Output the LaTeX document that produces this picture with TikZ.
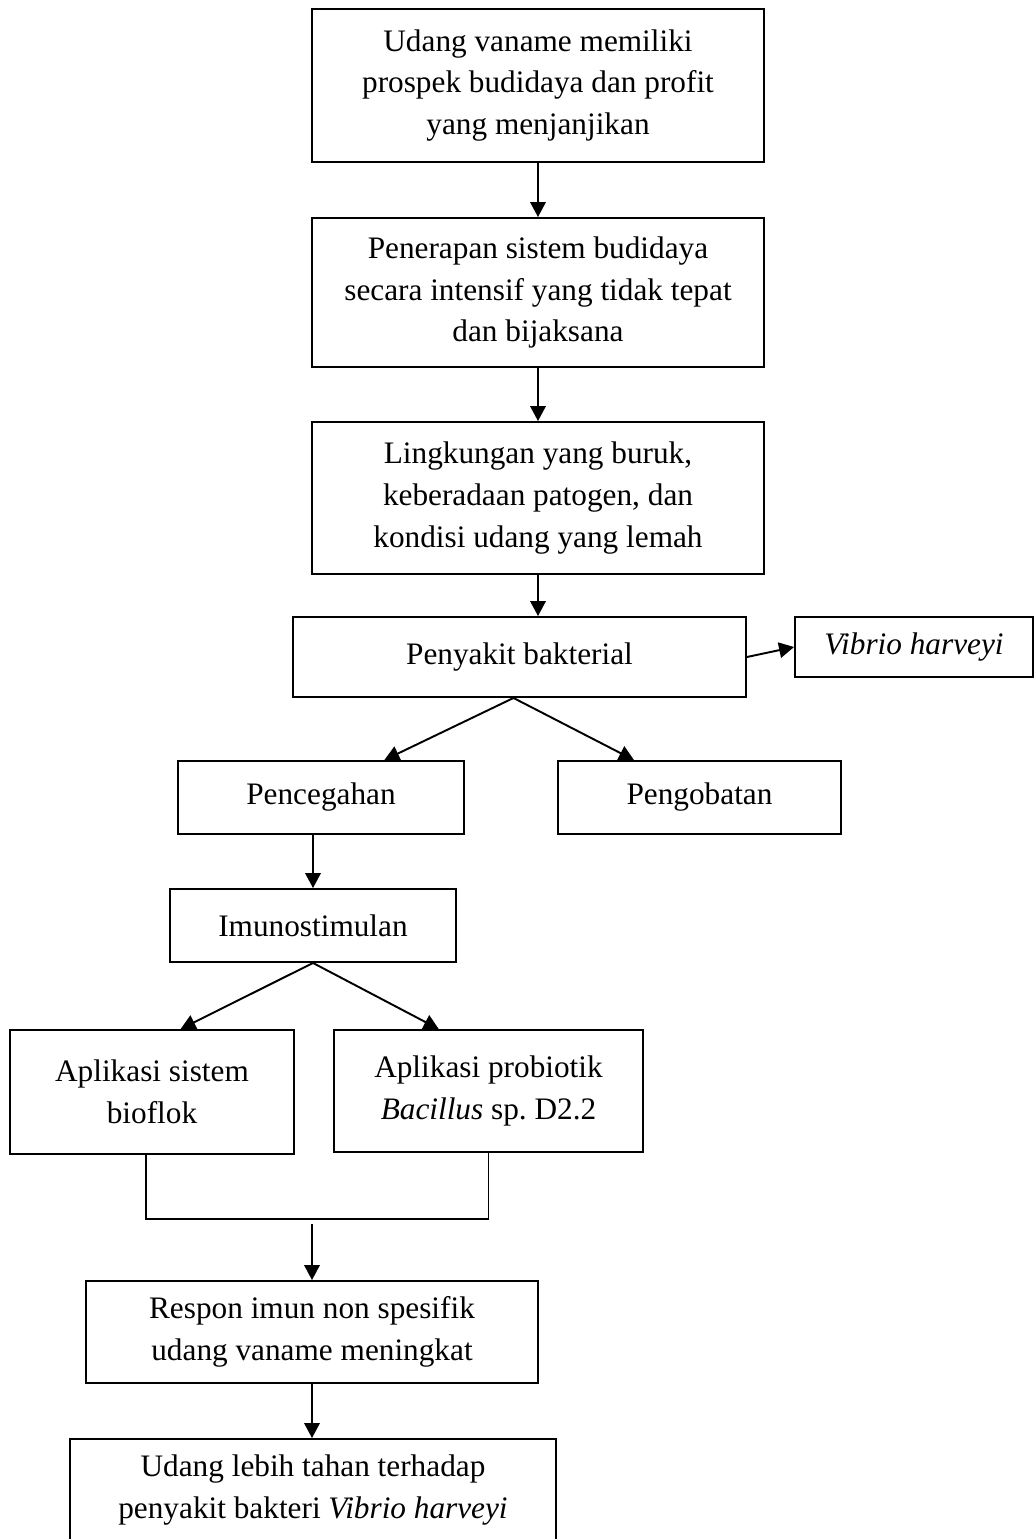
\documentclass[tikz,border=0pt]{standalone}
\usepackage{fontspec}
\setmainfont{Liberation Serif}
\usetikzlibrary{arrows.meta,calc}

\tikzset{
  box/.style={draw, line width=1.1pt, align=center, inner sep=2pt,
    font=\fontsize{17.8}{23.8}\selectfont},
  arr/.style={line width=1.1pt, -{Triangle[length=0.3cm,width=0.31cm]}},
  ln/.style={line width=1.1pt}
}

\begin{document}
\begin{tikzpicture}[x=0.02cm, y=-0.02cm]
    \useasboundingbox (0,0) rectangle (1035,1539);
    % main column
    \node[box, minimum width=9.04cm, minimum height=3.06cm] (prospek) at (538,85.5)
      {Udang vaname memiliki\\prospek budidaya dan profit\\yang menjanjikan};
    \node[box, minimum width=9.04cm, minimum height=2.98cm] (intensif) at (538,292.5)
      {Penerapan sistem budidaya\\secara intensif yang tidak tepat\\dan bijaksana};
    \node[box, minimum width=9.04cm, minimum height=3.04cm] (lingkungan) at (538,498)
      {Lingkungan yang buruk,\\keberadaan patogen, dan\\kondisi udang yang lemah};
    \node[box, minimum width=9.06cm, minimum height=1.6cm] (penyakit) at (519.5,657)
      {Penyakit bakterial};
    \node[box, minimum width=4.76cm, minimum height=1.2cm] (vibrio) at (914,647)
      {\itshape Vibrio harveyi};
    % branches
    \node[box, minimum width=5.72cm, minimum height=1.46cm] (cegah) at (321,797.5)
      {Pencegahan};
    \node[box, minimum width=5.66cm, minimum height=1.46cm] (obat) at (699.5,797.5)
      {Pengobatan};
    \node[box, minimum width=5.72cm, minimum height=1.46cm] (imuno) at (313,925.5)
      {Imunostimulan};
    \node[box, minimum width=5.68cm, minimum height=2.48cm] (bioflok) at (152,1092)
      {Aplikasi sistem\\bioflok};
    \node[box, minimum width=6.18cm, minimum height=2.44cm] (probiotik) at (488.5,1091)
      {Aplikasi probiotik\\\textit{Bacillus} sp.\ D2.2};
    \node[box, minimum width=9.04cm, minimum height=2.04cm] (respon) at (312,1332)
      {Respon imun non spesifik\\udang vaname meningkat};
    \node[box, minimum width=9.72cm, minimum height=2.04cm] (tahan) at (313,1490)
      {Udang lebih tahan terhadap\\penyakit bakteri \textit{Vibrio harveyi}};
    \coordinate (gabung) at (312,1224);

    % connectors
    \draw[arr] (prospek) -- (intensif);
    \draw[arr] (intensif) -- (lingkungan);
    \draw[arr] (lingkungan.south) -- (lingkungan.south |- penyakit.north);
    \draw[arr] (penyakit.east) -- (vibrio.west);
    \draw[arr] ($(penyakit.south)+(-6,0)$) -- ($(cegah.north west)!0.72!(cegah.north east)$);
    \draw[arr] ($(penyakit.south)+(-6,0)$) -- ($(obat.north west)!0.27!(obat.north east)$);
    \draw[arr] (imuno.north |- cegah.south) -- (imuno.north);
    \draw[arr] (imuno.south) -- ($(bioflok.north west)!0.6!(bioflok.north east)$);
    \draw[arr] (imuno.south) -- ($(probiotik.north west)!0.34!(probiotik.north east)$);
    \draw[ln] ($(bioflok.south)+(-6,0)$) -- ++(0,64) -| (probiotik.south);
    \draw[arr] (gabung) -- (respon.north);
    \draw[arr] (respon.south) -- (respon.south |- tahan.north);
  \end{tikzpicture}
\end{document}
